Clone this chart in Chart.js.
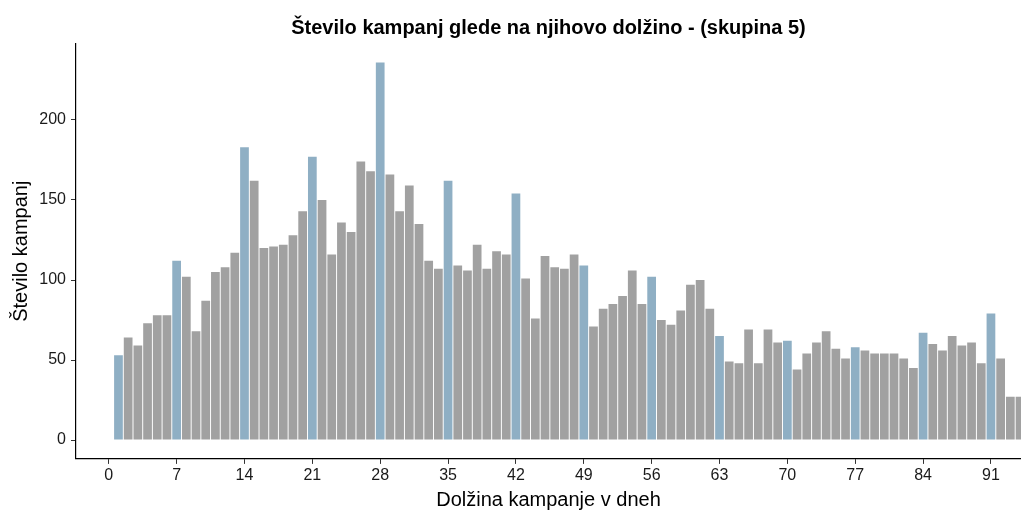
<!DOCTYPE html>
<html lang="sl">
<head>
<meta charset="utf-8">
<title>Število kampanj glede na njihovo dolžino</title>
<script src="https://cdn.jsdelivr.net/npm/chart.js@4.4.1/dist/chart.umd.min.js"></script>
<style>
    body { margin: 0; background: #fff; }
    #wrap { width: 1021px; height: 513px; }
</style>
</head>
<body>
<div id="wrap"><canvas id="lengthChart" width="1021" height="513"></canvas></div>
<script>
// Data
const days = [
    1, 2, 3, 4, 5, 6, 7, 8, 9, 10, 11, 12, 13, 14, 15, 16, 17, 18, 19, 20,
    21, 22, 23, 24, 25, 26, 27, 28, 29, 30, 31, 32, 33, 34, 35, 36, 37, 38, 39, 40,
    41, 42, 43, 44, 45, 46, 47, 48, 49, 50, 51, 52, 53, 54, 55, 56, 57, 58, 59, 60,
    61, 62, 63, 64, 65, 66, 67, 68, 69, 70, 71, 72, 73, 74, 75, 76, 77, 78, 79, 80,
    81, 82, 83, 84, 85, 86, 87, 88, 89, 90, 91, 92, 93, 94
];
const campaignCounts = [
    53, 64, 59, 73, 78, 78, 112, 102, 68, 87, 105, 108, 117, 183, 162, 120, 121, 122, 128, 143,
    177, 150, 116, 136, 130, 174, 168, 236, 166, 143, 159, 135, 112, 107, 162, 109, 106, 122, 107, 118,
    116, 154, 101, 76, 115, 108, 107, 116, 109, 71, 82, 85, 90, 106, 85, 102, 75, 72, 81, 97,
    100, 82, 65, 49, 48, 69, 48, 69, 61, 62, 44, 54, 61, 68, 57, 51, 58, 56, 54, 54,
    54, 51, 45, 67, 60, 56, 65, 59, 61, 48, 79, 51, 27, 27
];
// day 1 and whole weeks are shown in blue
const highlightDays = [1, 7, 14, 21, 28, 35, 42, 49, 56, 63, 70, 77, 84, 91];
const xTicks = [0, 7, 14, 21, 28, 35, 42, 49, 56, 63, 70, 77, 84, 91];
const yTicks = [0, 50, 100, 150, 200];

const FONT = '"Liberation Sans", Arial, sans-serif';
const GRAY = '#a1a1a1';
const BLUE = '#8fafc4';

document.addEventListener('DOMContentLoaded', function() {
    initializeLengthChart();
});

function initializeLengthChart() {
    const ctx = document.getElementById('lengthChart').getContext('2d');

    new Chart(ctx, {
        type: 'bar',
        data: {
            datasets: [
                {
                    data: days.map((d, i) => ({ x: d, y: campaignCounts[i] })),
                    backgroundColor: function(c) {
                        const p = c.raw;
                        return p && highlightDays.includes(p.x) ? BLUE : GRAY;
                    },
                    borderWidth: 0,
                    barPercentage: 0.9,
                    categoryPercentage: 1
                }
            ]
        },
        options: {
            responsive: false,
            animation: false,
            layout: { padding: 0 },
            plugins: {
                legend: { display: false },
                tooltip: { enabled: false },
                title: {
                    display: true,
                    fullSize: false,
                    text: 'Število kampanj glede na njihovo dolžino - (skupina 5)',
                    color: '#000',
                    font: { family: FONT, size: 20, weight: 'bold' },
                    padding: { top: 16.5, bottom: 3 }
                }
            },
            scales: {
                x: {
                    type: 'linear',
                    min: -3.38,
                    max: 94.1,
                    offset: false,
                    afterFit: function(scale) { scale.height = 54.1; },
                    afterBuildTicks: function(scale) {
                        scale.ticks = xTicks.map(v => ({ value: v }));
                    },
                    grid: {
                        display: true,
                        offset: false,
                        drawOnChartArea: false,
                        drawTicks: true,
                        tickLength: 5,
                        tickColor: '#333',
                        tickWidth: 1
                    },
                    border: { display: true, color: '#000', width: 1.2 },
                    ticks: {
                        color: '#1a1a1a',
                        padding: 2,
                        maxRotation: 0,
                        autoSkip: false,
                        font: { family: FONT, size: 16 }
                    },
                    title: {
                        display: true,
                        text: 'Dolžina kampanje v dneh',
                        color: '#000',
                        font: { family: FONT, size: 20 },
                        padding: { top: 0, bottom: 1 }
                    }
                },
                y: {
                    type: 'linear',
                    min: -11.8,
                    max: 247.8,
                    afterFit: function(scale) { scale.width = 76; },
                    afterBuildTicks: function(scale) {
                        scale.ticks = yTicks.map(v => ({ value: v }));
                    },
                    grid: {
                        display: true,
                        drawOnChartArea: false,
                        drawTicks: true,
                        tickLength: 5,
                        tickColor: '#333',
                        tickWidth: 1
                    },
                    border: { display: true, color: '#000', width: 1.2 },
                    ticks: {
                        color: '#1a1a1a',
                        padding: 5,
                        font: { family: FONT, size: 16 }
                    },
                    title: {
                        display: true,
                        text: 'Število kampanj',
                        color: '#000',
                        font: { family: FONT, size: 20 },
                        padding: { top: 9, bottom: 0 }
                    }
                }
            }
        }
    });
}
</script>
</body>
</html>
